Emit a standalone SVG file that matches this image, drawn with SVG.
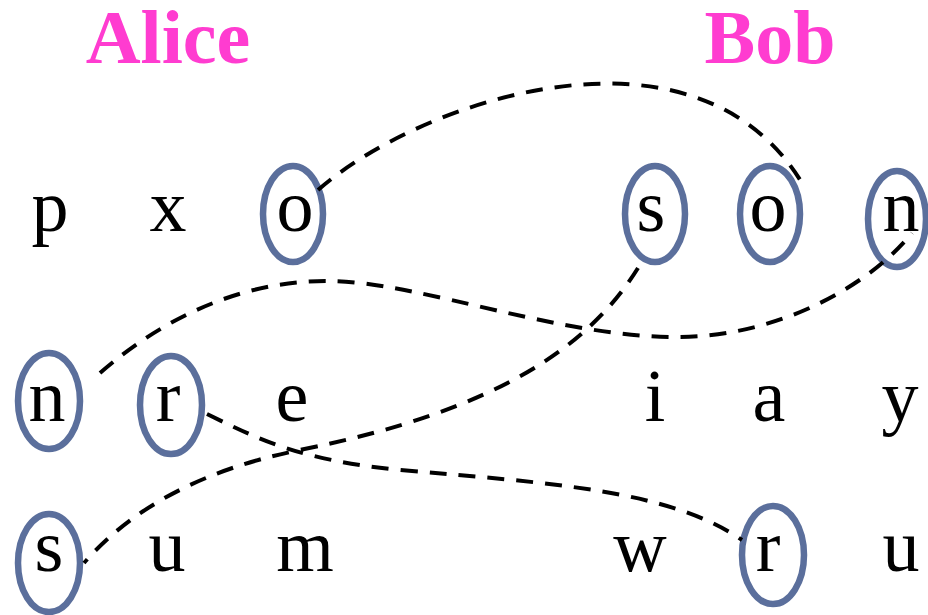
<svg xmlns="http://www.w3.org/2000/svg" width="928" height="615" viewBox="0 0 928 615">
<style>
.t{font-family:"Liberation Serif","Times New Roman",serif;font-size:74px;fill:#000;text-anchor:middle}
.h{font-family:"Liberation Serif","Times New Roman",serif;font-size:76px;font-weight:bold;fill:#FF3CD0;text-anchor:middle}
.c{fill:none;stroke:#5B6F9C;stroke-width:6.5}
.e{fill:none;stroke:#000;stroke-width:4;stroke-dasharray:17 12}
</style>
<rect width="928" height="615" fill="#fff"/>
<g id="titles">
<text class="h" x="168" y="63">Alice</text>
<text class="h" x="770" y="63">Bob</text>
</g>
<g id="row1">
<g id="a-p"><text class="t" x="50" y="231">p</text></g>
<g id="a-x"><text class="t" x="168" y="231">x</text></g>
<g id="a-o"><ellipse class="c" cx="293" cy="214" rx="30" ry="48"/><text class="t" x="295" y="231">o</text></g>
<g id="b-s"><ellipse class="c" cx="655" cy="214" rx="30" ry="48"/><text class="t" x="651" y="231">s</text></g>
<g id="b-o"><ellipse class="c" cx="770" cy="214" rx="30" ry="48"/><text class="t" x="768" y="231">o</text></g>
<g id="b-n"><ellipse class="c" cx="897" cy="219" rx="29" ry="48"/><text class="t" x="901" y="231">n</text></g>
</g>
<g id="row2">
<g id="a-n"><ellipse class="c" cx="49" cy="401" rx="31" ry="48"/><text class="t" x="47" y="421">n</text></g>
<g id="a-r"><ellipse class="c" cx="171" cy="405" rx="31" ry="49"/><text class="t" x="168" y="421">r</text></g>
<g id="a-e"><text class="t" x="292" y="421">e</text></g>
<g id="b-i"><text class="t" x="655" y="421">i</text></g>
<g id="b-a"><text class="t" x="769" y="421">a</text></g>
<g id="b-y"><text class="t" x="900" y="421">y</text></g>
</g>
<g id="row3">
<g id="a-s"><ellipse class="c" cx="49" cy="563" rx="31" ry="49"/><text class="t" x="49" y="571">s</text></g>
<g id="a-u"><text class="t" x="167" y="571">u</text></g>
<g id="a-m"><text class="t" x="305" y="571">m</text></g>
<g id="b-w"><text class="t" x="640" y="571">w</text></g>
<g id="b-r"><ellipse class="c" cx="773" cy="555" rx="31" ry="49"/><text class="t" x="768" y="571">r</text></g>
<g id="b-u"><text class="t" x="901" y="571">u</text></g>
</g>
<g id="connectors">
<path class="e" d="M318,190 C420,100 700,5 805,188"/>
<path class="e" d="M100,373 C170,312 250,280 330,281 C420,282 560,338 680,337 C780,336 870,285 912,233"/>
<path class="e" d="M638,268 C590,345 500,410 300,450 C200,470 130,510 84,563"/>
<path class="e" d="M207,414 C260,440 300,460 400,470 C550,483 670,490 742,540"/>
</g>
</svg>
